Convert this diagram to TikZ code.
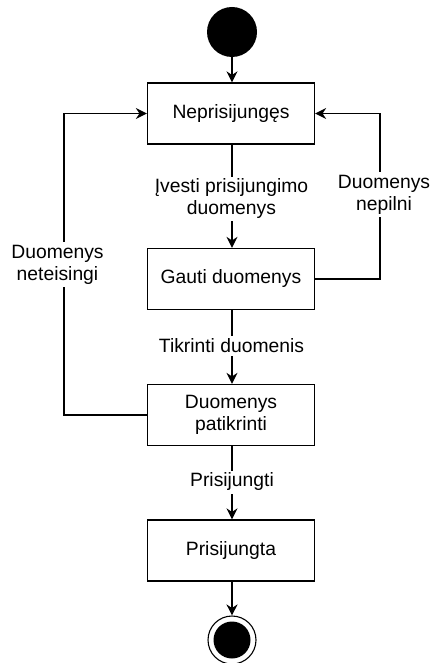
\documentclass[tikz,border=0pt]{standalone}
\usepackage{fontspec}
\setmainfont{Liberation Sans}
\usetikzlibrary{arrows.meta}
\begin{document}
\begin{tikzpicture}[x=1pt,y=-1pt,
  every node/.style={font=\fontsize{19.3}{22}\selectfont, align=center},
  state/.style={draw, line width=1.3pt, minimum width=167pt, minimum height=61pt, inner sep=0pt},
  flow/.style={line width=1.3pt, -{Stealth[length=11pt,width=11pt]}},
  lbl/.style={fill=white, inner sep=2.5pt}]
  \useasboundingbox (0,0) rectangle (431,663);

  % states
  \node[circle, fill=black, minimum size=50pt, inner sep=0pt] (start) at (232,32) {};
  \node[state] (n1) at (231,113.5) {Neprisijungęs};
  \node[state] (n2) at (231,279) {Gauti duomenys};
  \node[state] (n3) at (231,415) {Duomenys\\patikrinti};
  \node[state] (n4) at (231,550.5) {Prisijungta};
  \node[circle, draw, line width=1.1pt, minimum size=48pt, inner sep=0pt] (end) at (232,640) {};
  \node[circle, fill=black, minimum size=37pt, inner sep=0pt] (endin) at (end) {};

  % helper corners of the loops
  \coordinate (l1) at (64,415);
  \coordinate (l2) at (64,113.5);
  \coordinate (r1) at (380,279);
  \coordinate (r2) at (380,113.5);

  % transitions
  \draw[flow] (start) -- (start |- n1.north);
  \draw[flow] (n1.south -| start) -- (n2.north -| start);
  \draw[flow] (n2.south -| start) -- (n3.north -| start);
  \draw[flow] (n3.south -| start) -- (n4.north -| start);
  \draw[flow] (n4.south -| start) -- (end.north);
  \draw[flow] (n3.west) -- (l1) -- (l2) -- (n1.west);
  \draw[flow] (n2.east) -- (r1) -- (r2) -- (n1.east);

  % transition labels
  \node[lbl] (t1) at (231.5,199) {Įvesti prisijungimo\\duomenys};
  \node[lbl] (t2) at (231.5,346) {Tikrinti duomenis};
  \node[lbl] (t3) at (232,482) {Prisijungti};
  \node[lbl] (tL) at (57.5,264.5) {Duomenys\\neteisingi};
  \node[lbl] (tR) at (384,194.5) {Duomenys\\nepilni};
\end{tikzpicture}
\end{document}
